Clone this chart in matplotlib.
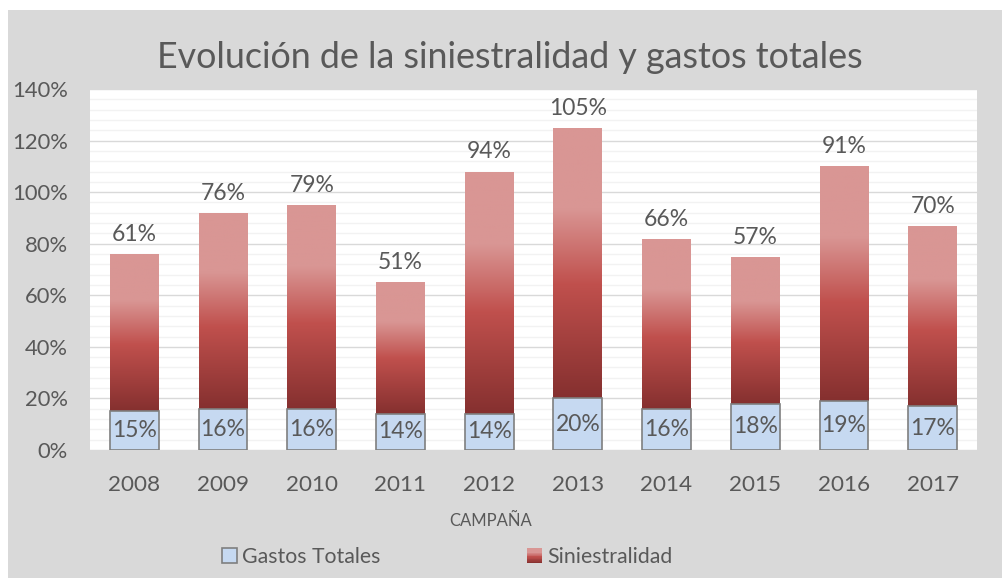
import matplotlib as mpl
mpl.use('Agg')
import numpy as np
import matplotlib.pyplot as plt
from matplotlib.colors import LinearSegmentedColormap
from matplotlib.patches import Rectangle
from matplotlib.legend_handler import HandlerBase
from matplotlib.ticker import MultipleLocator, FuncFormatter

plt.rcParams['font.family'] = ['Lato', 'DejaVu Sans']

############# DATA ##############
years = ['2008', '2009', '2010', '2011', '2012', '2013', '2014', '2015', '2016', '2017']
gastosTotales = [15, 16, 16, 14, 14, 20, 16, 18, 19, 17]
siniestralidad = [61, 76, 79, 51, 94, 105, 66, 57, 91, 70]

TITLE = "Evolución de la siniestralidad y gastos totales"
STR_XLABEL = "CAMPAÑA"
STR_GASTOS = "Gastos Totales"
STR_SINIESTRALIDAD = "Siniestralidad"

TEXT_COLOR = '#595959'
BG_GRAY = '#d9d9d9'
COLOR_GASTOS = '#c6d9f1'
COLOR_GASTOS_EDGE = '#7f7f7f'
redCmap = LinearSegmentedColormap.from_list(
    'sin', [(0.0, '#85302f'), (0.42, '#c0504d'), (0.70, '#d99694'), (1.0, '#d99694')])


class GradientHandler(HandlerBase):
    # legend key drawn as thin horizontal strips of the gradient
    def create_artists(self, legend, orig_handle, xdescent, ydescent, width, height, fontsize, trans):
        n = 20
        arts = []
        for k in range(n):
            r = Rectangle((-xdescent, -ydescent + height * k / n), width, height / n + 0.3,
                          facecolor=redCmap((k + 0.5) / n), edgecolor='none', transform=trans)
            arts.append(r)
        return arts


W, H = 1003, 578
fig = plt.figure(figsize=(W / 100, H / 100), dpi=100)
fig.patch.set_facecolor('white')
# gray chart area
fig.patches.append(Rectangle((8 / W, 0), 1 - 8 / W, 1 - 10 / H, transform=fig.transFigure,
                             facecolor=BG_GRAY, edgecolor='none', zorder=-10))

ax = fig.add_axes([90 / W, 1 - 450 / H, (977 - 90) / W, (450 - 89) / H])
ax.set_facecolor('white')

x = np.arange(len(years))
barWidth = 0.55

gastosBars = ax.bar(x, gastosTotales, width=barWidth, color=COLOR_GASTOS,
                    edgecolor=COLOR_GASTOS_EDGE, linewidth=1.2, zorder=3, label=STR_GASTOS)
sinBars = ax.bar(x, siniestralidad, width=barWidth, bottom=gastosTotales,
                 color='none', edgecolor='none', zorder=3)

grad = np.linspace(0, 1, 256).reshape(-1, 1)
for patch in sinBars:
    x0, y0 = patch.get_x(), patch.get_y()
    im = ax.imshow(grad, extent=[x0, x0 + patch.get_width(), y0, y0 + patch.get_height()],
                   origin='lower', aspect='auto', cmap=redCmap, zorder=2.5)
    im.set_clip_path(patch)

# labels
for i in range(len(years)):
    ax.text(x[i], gastosTotales[i] / 2, '%d%%' % gastosTotales[i], ha='center', va='center',
            fontsize=16.5, color=TEXT_COLOR, zorder=5)
    ax.annotate('%d%%' % siniestralidad[i], (x[i], gastosTotales[i] + siniestralidad[i]),
                xytext=(0, 6.5), textcoords='offset points', ha='center', va='bottom',
                fontsize=16.5, color=TEXT_COLOR, zorder=5)

ax.set_xlim(-0.5, len(years) - 0.5)
ax.set_ylim(0, 140)
ax.yaxis.set_major_locator(MultipleLocator(20))
ax.yaxis.set_minor_locator(MultipleLocator(4))
ax.yaxis.set_major_formatter(FuncFormatter(lambda v, p: '%d%%' % v))
ax.grid(axis='y', which='minor', color='#f2f2f2', linewidth=1)
ax.grid(axis='y', which='major', color='#d9d9d9', linewidth=1)
ax.set_axisbelow(True)
ax.set_xticks(x)
ax.set_xticklabels(years)
ax.tick_params(axis='y', which='both', length=0, labelsize=15.8, labelcolor=TEXT_COLOR, pad=16)
ax.tick_params(axis='x', length=0, labelsize=16.2, labelcolor=TEXT_COLOR, pad=18)
for s in ax.spines.values():
    s.set_visible(False)

fig.text(510 / W, 1 - 58 / H, TITLE, ha='center', va='center', fontsize=25.8, color=TEXT_COLOR)
fig.text(491 / W, 1 - 521 / H, STR_XLABEL, ha='center', va='center', fontsize=12, color=TEXT_COLOR)

sinHandle = Rectangle((0, 0), 1, 1, facecolor='#b84a48', edgecolor='none')
fig.legend([gastosBars, sinHandle], [STR_GASTOS, STR_SINIESTRALIDAD], ncol=2,
           loc='center left', bbox_to_anchor=(222 / W, 1 - 557 / H), frameon=False,
           fontsize=15.3, labelcolor=TEXT_COLOR, borderpad=0, borderaxespad=0,
           handlelength=0.7, handleheight=0.7, handletextpad=0.25, columnspacing=6.9,
           handler_map={sinHandle: GradientHandler()})

fig.savefig('out.png', dpi=100, facecolor=fig.get_facecolor())
